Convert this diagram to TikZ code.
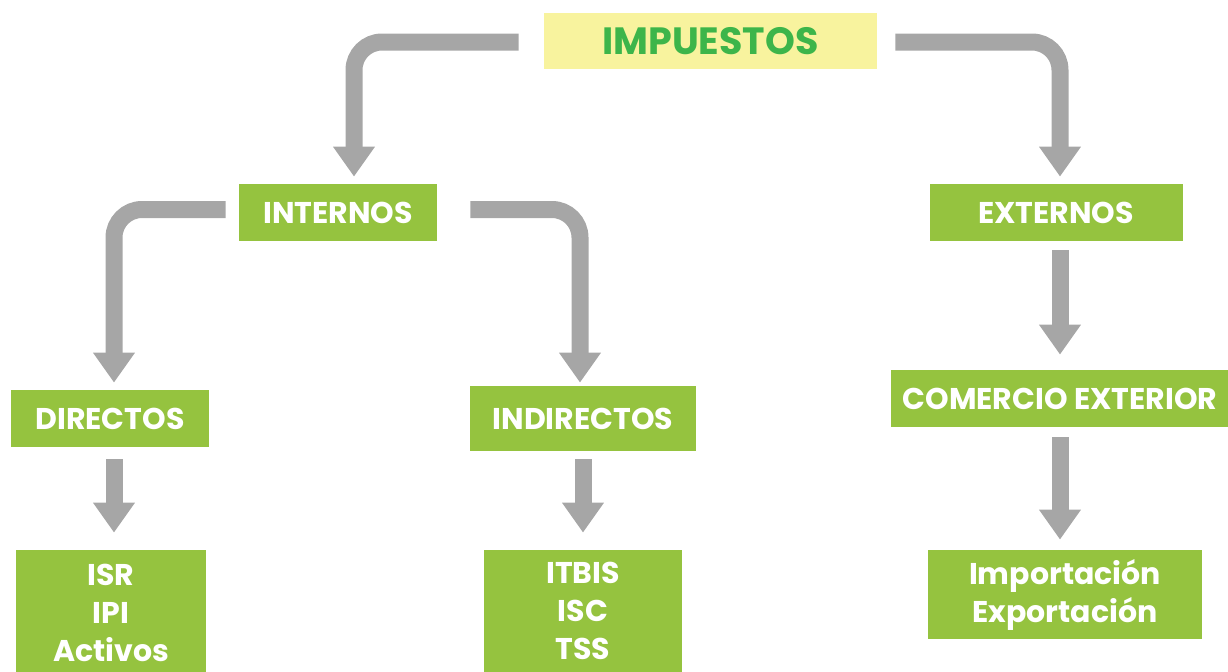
\documentclass[tikz,border=0pt]{standalone}
\usepackage{fontspec}
\setmainfont{Poppins}
\usetikzlibrary{arrows.meta}
\definecolor{boxgreen}{HTML}{95C33F}
\definecolor{boxyellow}{HTML}{F8F39E}
\definecolor{titlegreen}{HTML}{3DB54A}
\definecolor{arrowgray}{HTML}{A6A6A6}
\tikzset{
  tax node/.style={
    fill=boxgreen,
    text=white,
    font=\fontsize{15}{19}\selectfont\bfseries,
    align=center,
    inner sep=0pt,
  },
  title node/.style={
    fill=boxyellow,
    text=titlegreen,
    font=\fontsize{19}{23}\selectfont\bfseries,
    inner sep=0pt,
  },
  flow/.style={
    draw=arrowgray,
    line width=8.5pt,
    rounded corners=14pt,
    -{Triangle[width=20pt, length=15pt]},
  },
}

\begin{document}
\begin{tikzpicture}[x=0.5pt, y=-0.5pt]
      \clip (0,0) rectangle (1228,671);

      \node[title node, minimum width=166.5pt, minimum height=28pt] (impuestos) at (710.5,41) {IMPUESTOS};
      \node[tax node, minimum width=99pt,  minimum height=28.5pt] (internos)    at (338,212.5)  {INTERNOS};
      \node[tax node, minimum width=126.5pt, minimum height=28.5pt] (externos)  at (1056,212.5) {EXTERNOS};
      \node[tax node, minimum width=99pt,  minimum height=28.5pt] (directos)    at (110,418.5)  {DIRECTOS};
      \node[tax node, minimum width=113pt, minimum height=32.5pt] (indirectos)  at (583,418.5)  {INDIRECTOS};
      \node[tax node, minimum width=169pt, minimum height=28.5pt] (comercio)    at (1060,398.5) {COMERCIO EXTERIOR};
      \node[tax node, minimum width=95pt,  minimum height=63pt]   (isr)         at (111,613)    {ISR\\IPI\\Activos};
      \node[tax node, minimum width=99pt,  minimum height=61pt]   (itbis)       at (583,611)    {ITBIS\\ISC\\TSS};
      \node[tax node, minimum width=137pt, minimum height=44.5pt] (importacion) at (1065,594.5) {Importaci\'on\\Exportaci\'on};

      % bent arrows
      \draw[flow] ([xshift=-12.5pt,yshift=-0.5pt]impuestos.west) -| ([xshift=8pt,yshift=3.5pt]internos.north);
      \draw[flow] ([xshift=9pt,yshift=-0.5pt]impuestos.east) -| ([xshift=2pt,yshift=3.5pt]externos.north);
      \draw[flow] ([xshift=-6.5pt,yshift=1.5pt]internos.west) -| ([xshift=2pt,yshift=3.5pt]directos.north);
      \draw[flow] ([xshift=16.5pt,yshift=1.5pt]internos.east) -| ([xshift=-1.5pt,yshift=1.5pt]indirectos.north);

      % straight arrows
      \coordinate (dirout) at ([xshift=2pt]directos.south);
      \draw[flow, shorten <=4.5pt, shorten >=7.5pt] (externos.south -| comercio.north) -- (comercio.north);
      \draw[flow, shorten <=5pt, shorten >=5pt] (comercio.south) -- (importacion.north -| comercio.south);
      \draw[flow, shorten <=6pt, shorten >=8.5pt] (dirout) -- (dirout |- isr.north);
      \draw[flow, shorten <=4pt, shorten >=8.5pt] (indirectos.south) -- (itbis.north);
\end{tikzpicture}
\end{document}
